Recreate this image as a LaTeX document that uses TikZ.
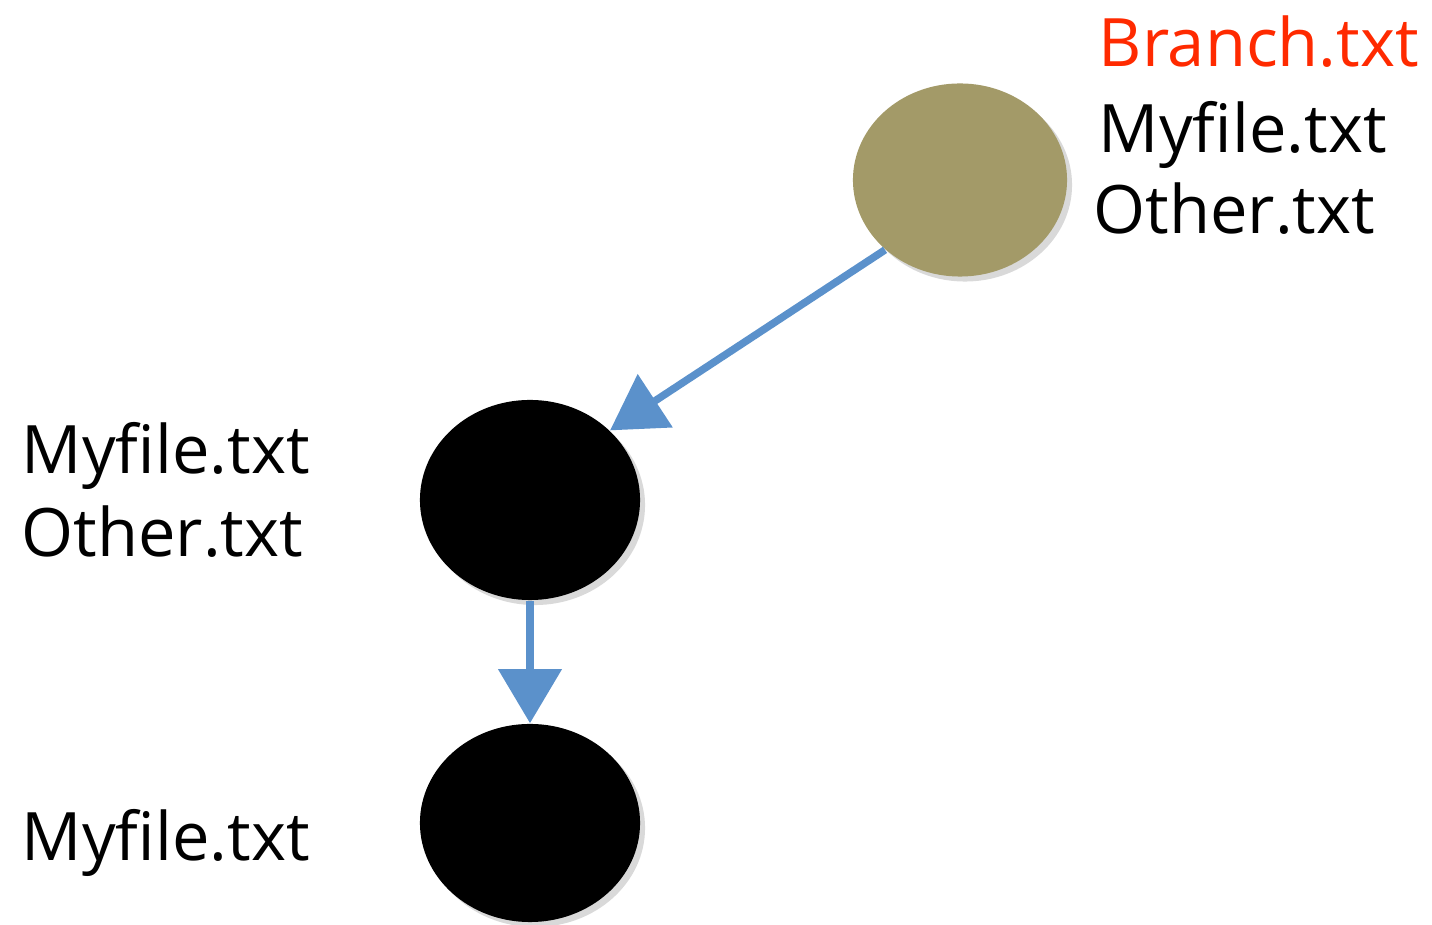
\documentclass[tikz,border=0pt]{standalone}
\usepackage{fontspec}
\setmainfont{Open Sans}
\usetikzlibrary{shapes.geometric,arrows.meta,shadows}
\definecolor{ramo}{HTML}{A39A68}
\definecolor{seta}{HTML}{5B91CB}
\definecolor{vermelho}{HTML}{FF2A00}
\begin{document}
\begin{tikzpicture}[x=0.01cm, y=-0.01cm,
	commit/.style={ellipse, inner sep=0pt, drop shadow={shadow xshift=0.05cm, shadow yshift=-0.05cm, opacity=0.3}},
	ficheiro/.style={anchor=base west, inner sep=0pt, font=\fontsize{19pt}{24pt}\selectfont},
	seta/.style={draw=seta, line width=0.075cm, -{Triangle[length=0.54cm, width=0.62cm]}}]

\useasboundingbox (0,0) rectangle (1432,925);

% Commits
\node[commit, fill=ramo, minimum width=2.14cm, minimum height=1.93cm] (B) at (960,180) {};
\node[commit, fill=black, minimum width=2.2cm, minimum height=2cm] (C1) at (530,500) {};
\node[commit, fill=black, minimum width=2.2cm, minimum height=1.98cm] (C0) at (530,823) {};

% Ficheiros
\node[ficheiro, text=vermelho] (tB1) at (1098,67) {Branch.txt};
\node[ficheiro] (tB2) at (1098,153) {Myfile.txt};
\node[ficheiro] (tB3) at (1093,234) {Other.txt};

\node[ficheiro] (tC1) at (21,474) {Myfile.txt};
\node[ficheiro] (tC2) at (21,557) {Other.txt};

\node[ficheiro] (tC0) at (21,861) {Myfile.txt};

% Setas
\draw[seta] (B.223) -- (C1.41);
\draw[seta] (C1.south) -- (C0.north);

\end{tikzpicture}
\end{document}
